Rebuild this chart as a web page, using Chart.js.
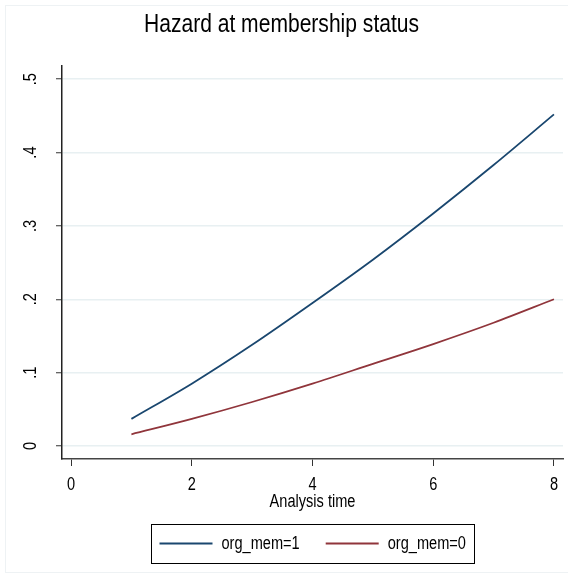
<!DOCTYPE html>
<html>
<head>
<meta charset="utf-8">
<script src="https://cdn.jsdelivr.net/npm/chart.js@4.4.1/dist/chart.umd.min.js"></script>
<style>
  html, body { margin: 0; padding: 0; background: #fff; }
  #wrap { width: 568px; height: 585px; }
</style>
</head>
<body>
<div id="wrap"><canvas id="hazard" width="568" height="585"></canvas></div>
<script>
// analysis time and fitted hazard for each membership group
var times = [1, 2, 3, 4, 5, 6, 7, 8];
var hazardMem1 = [0.037, 0.085, 0.138, 0.195, 0.254, 0.317, 0.383, 0.452];
var hazardMem0 = [0.016, 0.037, 0.060, 0.085, 0.112, 0.139, 0.168, 0.200];
var seriesNames = ['org_mem=1', 'org_mem=0'];
var xTicks = [0, 2, 4, 6, 8];
var yTicks = [0, 0.1, 0.2, 0.3, 0.4, 0.5];

var FONT = "'Liberation Sans', Arial, sans-serif";
var NARROW = 0.81; // no narrow face installed, so squeeze the text horizontally

// every fillText on this context is drawn condensed around its anchor point
function narrowText(ctx, k) {
	var fill = ctx.fillText;
	ctx.fillText = function (text, x, y, maxWidth) {
		this.save();
		this.translate(x, y);
		this.scale(k, 1);
		if (maxWidth === undefined) {
			fill.call(this, text, 0, 0);
		} else {
			fill.call(this, text, 0, 0, maxWidth / k);
		}
		this.restore();
	};
}

function toPoints(xs, ys) {
	return xs.map(function (x, i) { return {x: x, y: ys[i]}; });
}

// boxed legend below the x axis, centred on the plot region
var boxLegend = {
	id: 'boxLegend',
	beforeDraw: function (chart) {
		// faint outer frame of the graph region
		var ctx = chart.ctx;
		ctx.save();
		ctx.strokeStyle = '#eef2f4';
		ctx.lineWidth = 1;
		ctx.strokeRect(5.5, 5.5, 580, 567);
		ctx.restore();
	},
	afterDraw: function (chart) {
		var ctx = chart.ctx;
		var area = chart.chartArea;
		var sets = chart.data.datasets;
		var lineLen = 53, gap = 9, between = 26, pad = 8.5;
		ctx.save();
		ctx.font = '18px ' + FONT;
		var widths = sets.map(function (d) { return ctx.measureText(d.label).width * NARROW; });
		var total = 0;
		widths.forEach(function (w, i) { total += lineLen + gap + w + (i ? between : 0); });
		var boxW = Math.round(total + pad * 2), boxH = 39;
		var left = Math.round((area.left + area.right) / 2 - boxW / 2);
		var top = area.bottom + 65;
		ctx.strokeStyle = '#000';
		ctx.lineWidth = 1;
		ctx.strokeRect(left + 0.5, top + 0.5, boxW, boxH);
		var x = left + pad, cy = top + boxH / 2;
		sets.forEach(function (d, i) {
			ctx.strokeStyle = d.borderColor;
			ctx.lineWidth = d.borderWidth;
			ctx.beginPath();
			ctx.moveTo(x, cy);
			ctx.lineTo(x + lineLen, cy);
			ctx.stroke();
			ctx.fillStyle = '#000';
			ctx.textBaseline = 'middle';
			ctx.textAlign = 'left';
			ctx.fillText(d.label, x + lineLen + gap, cy + 1);
			x += lineLen + gap + widths[i] + between;
		});
		ctx.restore();
	}
};

var lienzo = document.getElementById('hazard');
narrowText(lienzo.getContext('2d'), NARROW);

var grafico = new Chart(lienzo, {
	type: 'line',
	data: {
		datasets: [
			{
				label: seriesNames[0],
				data: toPoints(times, hazardMem1),
				borderColor: '#1a476f',
				borderWidth: 1.8,
				pointRadius: 0,
				cubicInterpolationMode: 'monotone'
			},
			{
				label: seriesNames[1],
				data: toPoints(times, hazardMem0),
				borderColor: '#90353b',
				borderWidth: 1.8,
				pointRadius: 0,
				cubicInterpolationMode: 'monotone'
			}
		]
	},
	options: {
		responsive: false,
		animation: false,
		events: [],
		layout: { padding: { left: 0, right: 5, top: 0, bottom: 70 } },
		plugins: {
			legend: { display: false },
			tooltip: { enabled: false },
			title: {
				display: true,
				text: 'Hazard at membership status',
				color: '#000',
				font: { family: FONT, size: 26, weight: 'normal', lineHeight: 1.2 },
				padding: { top: 9, bottom: 26 }
			}
		},
		scales: {
			x: {
				type: 'linear',
				min: -0.15,
				max: 8.15,
				afterBuildTicks: function (scale) {
					scale.ticks = xTicks.map(function (v) { return {value: v}; });
				},
				afterFit: function (scale) { scale.height = 56; },
				ticks: {
					color: '#000',
					font: { family: FONT, size: 18 },
					padding: 8,
					maxRotation: 0,
					callback: function (v) { return String(v); }
				},
				grid: {
					drawOnChartArea: false,
					drawTicks: true,
					tickLength: 7,
					tickColor: '#333',
					tickWidth: 1
				},
				border: { display: true, color: '#444', width: 1.5 },
				title: {
					display: true,
					text: 'Analysis time',
					color: '#000',
					font: { family: FONT, size: 18, lineHeight: 1.2 },
					padding: { top: 0, bottom: 2 }
				}
			},
			y: {
				min: -0.0177,
				max: 0.5177,
				afterBuildTicks: function (scale) {
					scale.ticks = yTicks.map(function (v) { return {value: v}; });
				},
				afterFit: function (scale) { scale.width = 62; },
				ticks: {
					color: '#000',
					font: { family: FONT, size: 18 },
					minRotation: 90,
					maxRotation: 90,
					crossAlign: 'center',
					padding: 17,
					callback: function (v) { return v === 0 ? '0' : String(v).replace(/^0/, ''); }
				},
				grid: {
					color: '#e8f0f2',
					lineWidth: 1.5,
					tickLength: 6,
					tickColor: '#333',
					tickWidth: 1
				},
				border: { display: true, color: '#222', width: 1.5 }
			}
		}
	},
	plugins: [boxLegend]
});
</script>
</body>
</html>
